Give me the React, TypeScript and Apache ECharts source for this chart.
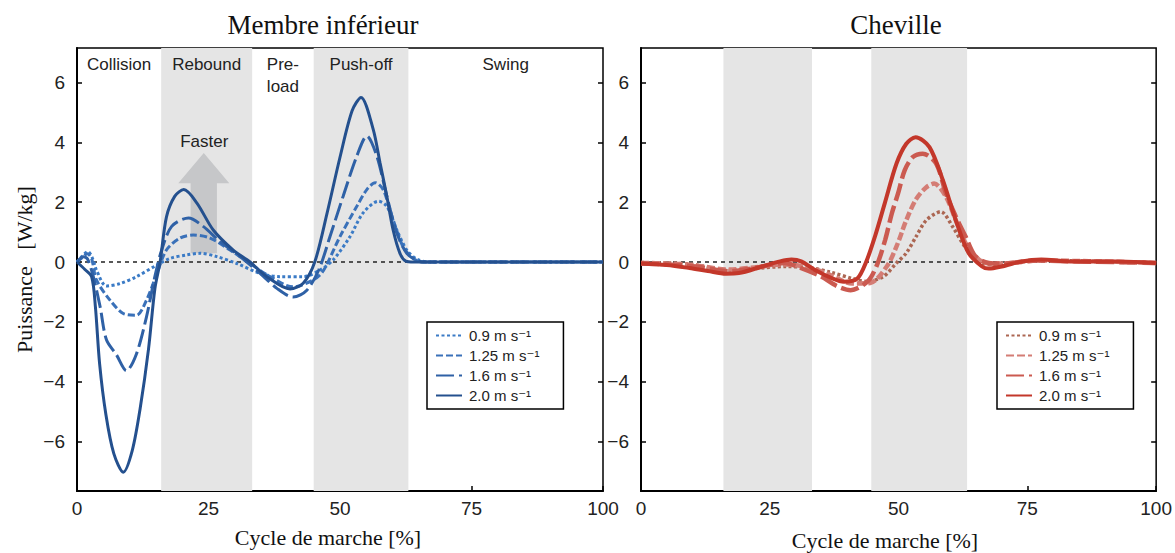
import React, { useEffect, useRef } from "react";
import * as echarts from "echarts";

// ---------- DATA ----------
const X_TICKS = [0, 25, 50, 75, 100];
const Y_TICKS = [-6, -4, -2, 0, 2, 4, 6];
const Y_MIN = -7.65;
const Y_MAX = 7.15;

const SPEEDS = ["0.9 m s\u207B\u00B9", "1.25 m s\u207B\u00B9", "1.6 m s\u207B\u00B9", "2.0 m s\u207B\u00B9"];

const PHASES = ["Collision", "Rebound", "Pre-\nload", "Push-off", "Swing"];
const PHASE_BOUNDS = [0, 16, 33.3, 45, 63, 100];
const PHASE_SHADED = [false, true, false, true, false];
const ANKLE_SHADED_BOUNDS = [
  [16, 33.2],
  [44.7, 63.3],
];

// Membre inférieur (limb) power, [cycle %, W/kg]
const limb09: number[][] = [
  [0, 0], [1, 0.2], [2.1, 0.35], [3, 0.1], [3.7, -0.27], [5.6, -0.8], [8.2, -0.72], [11.3, -0.49],
  [15.2, -0.1], [17.7, 0.12], [20.9, 0.24], [23.4, 0.29], [26.6, 0.18], [30.4, -0.05], [34.8, -0.38],
  [38.6, -0.49], [43, -0.49], [46.2, -0.27], [48.7, 0.07], [51.9, 0.85], [54.4, 1.64], [57.3, 2.03],
  [58.9, 1.86], [60.8, 1.07], [62.7, 0.4], [64.6, 0.1], [67, 0], [100, 0],
];
const limb125: number[][] = [
  [0, 0], [1, 0.15], [2, 0.28], [2.8, 0.1], [3.7, -0.6], [6.3, -1.28], [8.8, -1.72], [11.3, -1.78],
  [13.2, -1.28], [15.2, -0.38], [17, 0.4], [19.6, 0.8], [22.1, 0.9], [25.3, 0.8], [29.1, 0.4],
  [32.9, -0.05], [36.7, -0.49], [41.1, -0.83], [44.9, -0.6], [46.8, -0.3], [50, 0.85], [53.2, 1.86],
  [55.1, 2.42], [56.7, 2.65], [58.2, 2.42], [60.1, 1.41], [62, 0.51], [63.9, 0.12], [65.8, 0], [100, 0],
];
const limb16: number[][] = [
  [0, 0], [1.2, 0.18], [2, 0.1], [3.1, -0.49], [4.4, -1.5], [5.6, -2.6], [7.5, -3.1], [9.4, -3.63],
  [11.3, -3.07], [13.2, -1.84], [14.8, -0.49], [16.1, 0.4], [18, 1.19], [21.2, 1.47], [24, 1.19],
  [27.2, 0.68], [31, 0.18], [34.8, -0.38], [38, -0.88], [41.1, -1.17], [43.7, -0.94], [46, -0.25],
  [48.1, 0.85], [50.6, 2.2], [53.2, 3.54], [55.1, 4.21], [57, 3.54], [58.9, 2.2], [60.8, 0.97],
  [62.7, 0.29], [64.6, 0.05], [66, 0], [100, 0],
];
const limb20: number[][] = [
  [0, 0], [1.5, -0.25], [2.8, -0.5], [3.5, -1.5], [4.3, -3.4], [5.5, -5.1], [7, -6.4], [8.8, -7.02],
  [10.5, -6.3], [12, -4.9], [13.6, -2.9], [14.8, -0.9], [15.8, 0], [17, 1.5], [18.6, 2.2], [20.3, 2.42],
  [22.8, 1.97], [25.9, 1.07], [29.7, 0.4], [32.9, 0], [36.1, -0.49], [40.5, -0.9], [43, -0.71],
  [45.2, 0], [47.5, 1.6], [50, 3.5], [52.3, 5.05], [54, 5.5], [56.3, 4.44], [57.6, 3.32], [58.9, 2.2],
  [60.1, 1.07], [61.4, 0.29], [62.5, 0.03], [64, 0], [100, 0],
];

// Cheville (ankle) power, [cycle %, W/kg]
const ankle09: number[][] = [
  [0, -0.02], [5, -0.03], [10, -0.08], [17, -0.28], [22, -0.22], [28, -0.15], [33, -0.2], [37, -0.35],
  [41, -0.55], [43.8, -0.65], [47.1, -0.48], [49.6, -0.03], [51.5, 0.3], [53.4, 0.85], [55.4, 1.4],
  [58.2, 1.68], [60.5, 1.18], [62.4, 0.63], [64.3, 0.19], [66.2, -0.03], [68.8, -0.1], [72, -0.02],
  [77, 0.05], [100, -0.03],
];
const ankle125: number[][] = [
  [0, -0.03], [5, -0.05], [10, -0.1], [17, -0.25], [22, -0.18], [28, -0.08], [33, -0.2], [37, -0.45],
  [41, -0.72], [44.5, -0.7], [47.7, -0.15], [49.6, 0.52], [51.5, 1.4], [53.4, 2.1], [55.4, 2.5],
  [56.9, 2.62], [59.2, 2.18], [61.1, 1.4], [63, 0.63], [64.9, 0.19], [66.8, -0.03], [70, -0.05],
  [77, 0.05], [100, -0.03],
];
const ankle16: number[][] = [
  [0, -0.05], [5, -0.08], [10.7, -0.15], [17.1, -0.31], [22, -0.2], [27.9, -0.03], [31, -0.2],
  [34.9, -0.48], [38, -0.8], [40.7, -0.94], [44, -0.65], [45.8, -0.1], [47.4, 0.74], [48.7, 1.63],
  [49.9, 2.29], [51.2, 3.07], [52.8, 3.51], [54.7, 3.62], [57.3, 3.29], [59.2, 2.29], [61.1, 1.52],
  [63, 0.85], [64.9, 0.19], [67.5, -0.03], [70, -0.05], [77, 0.05], [85, 0.02], [100, -0.03],
];
const ankle20: number[][] = [
  [0, -0.05], [5, -0.1], [9.4, -0.2], [13, -0.3], [16.5, -0.39], [19, -0.37], [23.5, -0.15], [27, 0.02],
  [29.2, 0.08], [31.1, 0.02], [33.7, -0.26], [36.9, -0.53], [39.4, -0.66], [42, -0.55], [43.7, 0],
  [45.5, 0.9], [47.3, 1.95], [49.6, 3.29], [51.5, 3.95], [53.3, 4.17], [56, 3.84], [58.6, 2.73],
  [61.1, 1.4], [63.6, 0.3], [66.2, -0.15], [67.5, -0.22], [70, -0.15], [73.9, 0.02], [77.7, 0.08],
  [83.3, 0.02], [92.8, 0.02], [100, -0.03],
];

const LIMB_SERIES = [limb09, limb125, limb16, limb20];
const ANKLE_SERIES = [ankle09, ankle125, ankle16, ankle20];

// "Faster" arrow annotation (data coords of left panel)
const ARROW_POINTS: number[][] = [
  [21.6, 0.29], [21.6, 2.63], [19.25, 2.63], [24.1, 3.64], [28.95, 2.63], [26.6, 2.63], [26.6, 0.29],
];
const ARROW_LABEL = "Faster";
const ARROW_LABEL_POS = [24.2, 4.02];

const TITLES = ["Membre inférieur", "Cheville"];
const X_NAME = "Cycle de marche [%]";
const Y_NAME = "Puissance   [W/kg]";

// ---------- STYLES ----------
const LIMB_STYLES = [
  { color: "#3b7bc6", type: [3, 2.5], width: 3 },
  { color: "#3a71b9", type: [7, 3], width: 3 },
  { color: "#2f61a6", type: [18, 5], width: 3 },
  { color: "#24508e", type: "solid", width: 3 },
];
const ANKLE_STYLES = [
  { color: "#ac6652", type: [3, 2.5], width: 3.5 },
  { color: "#d47d75", type: [8, 3], width: 4.5 },
  { color: "#cb5a50", type: [18, 5], width: 4.5 },
  { color: "#c3372a", type: "solid", width: 4 },
];

const SANS = "'Liberation Sans', 'DejaVu Sans', sans-serif";
const SERIF = "'Liberation Serif', 'DejaVu Serif', serif";
const SHADE = "#e5e5e5";

const fmtY = (v: number) => (v < 0 ? "\u2212" + Math.abs(v) : String(v));

function xAxisCfg(gridIndex: number) {
  return {
    type: "value",
    gridIndex,
    min: 0,
    max: 100,
    interval: 25,
    axisLine: { show: true, onZero: false, lineStyle: { color: "#000", width: 2 } },
    axisTick: { show: true, inside: true, length: 5, customValues: X_TICKS, lineStyle: { color: "#000", width: 1.5 } },
    axisLabel: { color: "#222", fontSize: 19, fontFamily: SANS, margin: 8, customValues: X_TICKS },
    splitLine: { show: false },
  };
}

function yAxisCfg(gridIndex: number, position: "left" | "right", withName: boolean) {
  const isLeft = position === "left";
  return {
    type: "value",
    gridIndex,
    position,
    min: Y_MIN,
    max: Y_MAX,
    splitNumber: 7,
    name: withName ? Y_NAME : "",
    nameLocation: "middle",
    nameGap: 42,
    nameTextStyle: { fontFamily: SERIF, fontSize: 22, color: "#111" },
    axisLine: { show: isLeft, onZero: false, lineStyle: { color: "#000", width: 2 } },
    axisTick: {
      show: true,
      inside: true,
      length: 5,
      customValues: Y_TICKS,
      lineStyle: { color: "#000", width: 1.5 },
    },
    axisLabel: {
      show: isLeft,
      customValues: Y_TICKS,
      color: "#222",
      fontSize: 19,
      fontFamily: SANS,
      margin: 12,
      formatter: (v: number) => (Number.isInteger(v) && v % 2 === 0 ? fmtY(v) : ""),
    },
    splitLine: { show: false },
  };
}

function legendCfg(names: string[], left: number, strip?: string) {
  return {
    data: names,
    orient: "vertical",
    left,
    top: 322,
    itemWidth: 26,
    itemHeight: 14,
    itemGap: 5,
    padding: [6, 24, 6, 8],
    borderColor: "#000",
    borderWidth: 1.5,
    backgroundColor: "#fff",
    selectedMode: false,
    itemStyle: { opacity: 0 },
    textStyle: { fontFamily: SANS, fontSize: 15, color: "#222", padding: [0, 0, 0, 2] },
    formatter: (n: string) => (strip ? n.replace(strip, "") : n),
  };
}

function buildOption() {
  const ankleNames = SPEEDS.map((s) => "C " + s);

  const limbLines = LIMB_SERIES.map((d, i) => ({
    type: "line",
    name: SPEEDS[i],
    xAxisIndex: 0,
    yAxisIndex: 0,
    data: d,
    smooth: 0.3,
    symbol: "none",
    z: 3 + i,
    lineStyle: { ...LIMB_STYLES[i], cap: "butt" },
    itemStyle: { color: LIMB_STYLES[i].color },
  }));
  const ankleLines = ANKLE_SERIES.map((d, i) => ({
    type: "line",
    name: ankleNames[i],
    xAxisIndex: 1,
    yAxisIndex: 2,
    data: d,
    smooth: 0.3,
    symbol: "none",
    z: 3 + i,
    lineStyle: { ...ANKLE_STYLES[i], cap: "butt" },
    itemStyle: { color: ANKLE_STYLES[i].color },
  }));

  const zeroLine = (xi: number, yi: number) => ({
    type: "line",
    name: "zero" + xi,
    xAxisIndex: xi,
    yAxisIndex: yi,
    data: [
      [0, 0],
      [100, 0],
    ],
    symbol: "none",
    silent: true,
    z: 2,
    lineStyle: { color: "#222", width: 1.5, type: [4, 4] },
  });

  const limbPhases = {
    type: "line",
    name: "phases0",
    xAxisIndex: 0,
    yAxisIndex: 0,
    data: [[0, 0]],
    symbol: "none",
    silent: true,
    z: 0,
    lineStyle: { opacity: 0 },
    markArea: {
      silent: true,
      label: {
        position: "insideTop",
        distance: 5,
        fontSize: 17,
        lineHeight: 22,
        color: "#222",
        fontFamily: SANS,
      },
      data: PHASES.map((name, i) => [
        {
          name,
          xAxis: PHASE_BOUNDS[i],
          itemStyle: { color: PHASE_SHADED[i] ? SHADE : "rgba(0,0,0,0)" },
        },
        { xAxis: PHASE_BOUNDS[i + 1] },
      ]),
    },
  };

  const anklePhases = {
    type: "line",
    name: "phases1",
    xAxisIndex: 1,
    yAxisIndex: 2,
    data: [[0, 0]],
    symbol: "none",
    silent: true,
    z: 0,
    lineStyle: { opacity: 0 },
    markArea: {
      silent: true,
      itemStyle: { color: SHADE },
      data: ANKLE_SHADED_BOUNDS.map((b) => [{ xAxis: b[0] }, { xAxis: b[1] }]),
    },
  };

  const arrow = {
    type: "custom",
    name: "faster",
    xAxisIndex: 0,
    yAxisIndex: 0,
    silent: true,
    z: 1,
    data: [ARROW_LABEL_POS],
    renderItem: (_params: any, api: any) => {
      const c = api.coord(ARROW_LABEL_POS);
      return {
        type: "group",
        children: [
          {
            type: "polygon",
            shape: { points: ARROW_POINTS.map((p) => api.coord(p)) },
            style: { fill: "#c6c7c9" },
          },
          {
            type: "text",
            x: c[0],
            y: c[1],
            style: {
              text: ARROW_LABEL,
              fill: "#222",
              fontSize: 17,
              fontFamily: SANS,
              align: "center",
              verticalAlign: "middle",
            },
          },
        ],
      };
    },
  };

  const textEl = (text: string, x: number, y: number, size: number) => ({
    type: "text",
    x,
    y,
    silent: true,
    style: { text, fontFamily: SERIF, fontSize: size, fill: "#111", align: "center", verticalAlign: "middle" },
  });

  return {
    animation: false,
    backgroundColor: "#fff",
    grid: [
      { left: 77, top: 48, width: 526, height: 443, show: true, borderColor: "#000", borderWidth: 1.5, backgroundColor: "transparent" },
      { left: 641, top: 48, width: 522, height: 443, show: true, borderColor: "#000", borderWidth: 1.5, backgroundColor: "transparent" },
    ],
    xAxis: [xAxisCfg(0), xAxisCfg(1)],
    yAxis: [
      yAxisCfg(0, "left", true),
      yAxisCfg(0, "right", false),
      yAxisCfg(1, "left", false),
      yAxisCfg(1, "right", false),
    ],
    legend: [legendCfg(SPEEDS, 427), legendCfg(ankleNames, 997, "C ")],
    graphic: [
      textEl(TITLES[0], 323, 25, 27),
      textEl(TITLES[1], 896, 25, 27),
      textEl(X_NAME, 328, 537, 22),
      textEl(X_NAME, 885, 540, 22),
    ],
    series: [
      limbPhases,
      anklePhases,
      arrow,
      zeroLine(0, 0),
      zeroLine(1, 2),
      ...limbLines,
      ...ankleLines,
    ],
  };
}

export default function App() {
  const ref = useRef<HTMLDivElement>(null);
  useEffect(() => {
    if (!ref.current) return;
    const chart = echarts.init(ref.current, null, { renderer: "svg" });
    chart.setOption(buildOption() as any);
    return () => chart.dispose();
  }, []);
  return (
    <div
      ref={ref}
      style={{ position: "fixed", left: 0, top: 0, width: 1175, height: 553, background: "#fff" }}
    />
  );
}
